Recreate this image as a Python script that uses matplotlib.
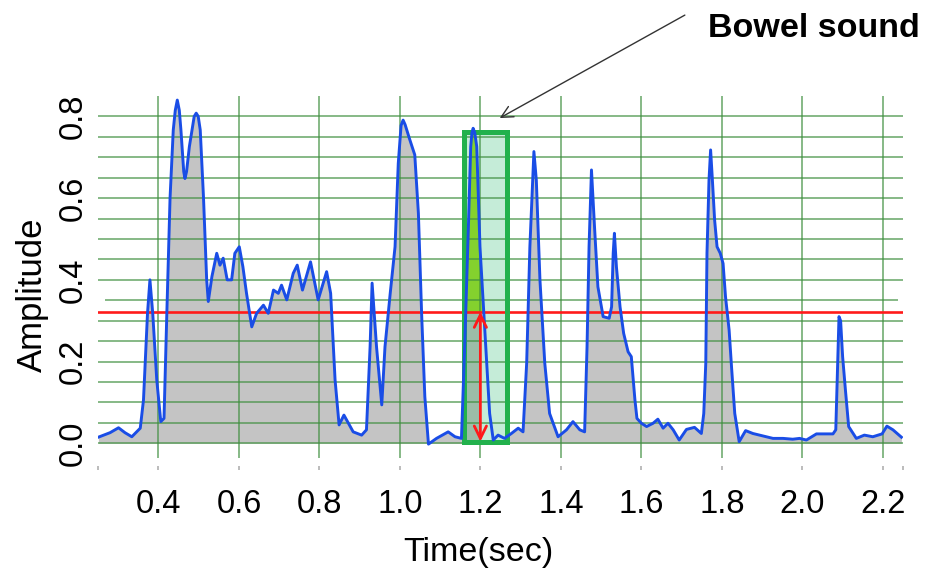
import matplotlib
matplotlib.use('Agg')
import matplotlib.pyplot as plt
from matplotlib.patches import Rectangle
import numpy as np

# ---------------- data ----------------
time_sec = [0.251, 0.280, 0.301, 0.317, 0.334, 0.355, 0.363, 0.373, 0.379, 0.386,
            0.396, 0.406, 0.414, 0.421, 0.429, 0.437, 0.442, 0.447, 0.452, 0.456,
            0.463, 0.466, 0.470, 0.477, 0.489, 0.494, 0.499, 0.504, 0.512, 0.520,
            0.524, 0.533, 0.545, 0.553, 0.561, 0.571, 0.582, 0.590, 0.601, 0.610,
            0.619, 0.632, 0.644, 0.661, 0.673, 0.686, 0.698, 0.706, 0.719, 0.735,
            0.745, 0.758, 0.778, 0.797, 0.818, 0.828, 0.839, 0.849, 0.861, 0.884,
            0.905, 0.917, 0.926, 0.931, 0.942, 0.955, 0.963, 0.976, 0.988, 0.996,
            1.003, 1.008, 1.013, 1.025, 1.037, 1.046, 1.054, 1.062, 1.071, 1.091,
            1.120, 1.137, 1.153, 1.161, 1.170, 1.176, 1.179, 1.182, 1.186, 1.191,
            1.199, 1.211, 1.223, 1.232, 1.244, 1.260, 1.277, 1.294, 1.306, 1.315,
            1.323, 1.333, 1.339, 1.348, 1.360, 1.372, 1.393, 1.414, 1.430, 1.447,
            1.459, 1.465, 1.470, 1.476, 1.484, 1.492, 1.505, 1.520, 1.526, 1.530,
            1.533, 1.538, 1.547, 1.556, 1.567, 1.575, 1.584, 1.589, 1.600, 1.613,
            1.629, 1.641, 1.654, 1.666, 1.679, 1.694, 1.712, 1.732, 1.749, 1.755,
            1.760, 1.763, 1.768, 1.772, 1.776, 1.782, 1.788, 1.796, 1.803, 1.809,
            1.818, 1.824, 1.832, 1.843, 1.859, 1.877, 1.902, 1.927, 1.952, 1.976,
            1.993, 2.010, 2.035, 2.059, 2.076, 2.083, 2.086, 2.091, 2.095, 2.100,
            2.107, 2.115, 2.134, 2.154, 2.175, 2.198, 2.210, 2.225, 2.246]

amplitude = [0.015, 0.026, 0.038, 0.026, 0.016, 0.037, 0.106, 0.318, 0.400, 0.318,
             0.155, 0.053, 0.061, 0.318, 0.600, 0.767, 0.815, 0.840, 0.815, 0.767,
             0.665, 0.648, 0.665, 0.726, 0.800, 0.808, 0.800, 0.767, 0.604, 0.400,
             0.347, 0.408, 0.465, 0.436, 0.453, 0.400, 0.400, 0.465, 0.481, 0.432,
             0.367, 0.285, 0.318, 0.338, 0.318, 0.375, 0.367, 0.387, 0.351, 0.416,
             0.436, 0.375, 0.444, 0.351, 0.420, 0.367, 0.155, 0.045, 0.069, 0.028,
             0.020, 0.033, 0.236, 0.392, 0.236, 0.094, 0.236, 0.367, 0.481, 0.685,
             0.778, 0.791, 0.780, 0.742, 0.706, 0.563, 0.318, 0.114, -0.002, 0.012,
             0.028, 0.016, 0.012, 0.236, 0.522, 0.726, 0.760, 0.771, 0.760, 0.726,
             0.481, 0.277, 0.073, 0.008, 0.020, 0.012, 0.024, 0.037, 0.028, 0.196,
             0.481, 0.714, 0.644, 0.400, 0.196, 0.073, 0.016, 0.033, 0.053, 0.033,
             0.028, 0.236, 0.481, 0.669, 0.522, 0.383, 0.310, 0.306, 0.334, 0.465,
             0.514, 0.432, 0.334, 0.269, 0.224, 0.212, 0.106, 0.061, 0.049, 0.041,
             0.049, 0.059, 0.037, 0.049, 0.033, 0.008, 0.034, 0.039, 0.024, 0.073,
             0.196, 0.465, 0.644, 0.718, 0.652, 0.546, 0.481, 0.465, 0.440, 0.359,
             0.277, 0.187, 0.073, 0.004, 0.031, 0.024, 0.018, 0.012, 0.012, 0.010,
             0.012, 0.008, 0.023, 0.023, 0.023, 0.033, 0.139, 0.310, 0.300, 0.212,
             0.130, 0.041, 0.012, 0.020, 0.016, 0.023, 0.042, 0.033, 0.015]

x_ticks = [0.4, 0.6, 0.8, 1.0, 1.2, 1.4, 1.6, 1.8, 2.0, 2.2]
x_tick_labels = ['0.4', '0.6', '0.8', '1.0', '1.2', '1.4', '1.6', '1.8', '2.0', '2.2']
x_end_ticks = [0.25, 2.25]
y_ticks = [0.0, 0.2, 0.4, 0.6, 0.8]
y_tick_labels = ['0.0', '0.2', '0.4', '0.6', '0.8']
h_grid = [0.00, 0.05, 0.10, 0.15, 0.20, 0.25, 0.30, 0.35, 0.40,
          0.45, 0.50, 0.55, 0.60, 0.65, 0.70, 0.75, 0.80]
h_grid_start = [0.25, 0.25, 0.25, 0.25, 0.25, 0.25, 0.25, 0.268, 0.25,
                0.25, 0.25, 0.25, 0.25, 0.25, 0.25, 0.25, 0.25]
h_grid_end = [2.25, 2.25, 2.25, 2.25, 2.25, 2.25, 2.25, 2.237, 2.25,
              2.25, 2.25, 2.25, 2.25, 2.25, 2.25, 2.25, 2.25]
threshold = 0.322
box_start, box_end = 1.16, 1.265
box_bottom, box_top = 0.002, 0.761
marker_time = 1.2
arrow_bottom = 0.004
note_text = 'Bowel sound'
note_tip = (1.248, 0.796)
note_tail = (1.708, 1.048)

# ---------------- figure ----------------
plt.rcParams['font.family'] = ['Liberation Sans', 'DejaVu Sans']
W, H = 927, 572
fig = plt.figure(figsize=(W / 100, H / 100), dpi=100)
fig.patch.set_facecolor('white')
ax = fig.add_axes([98 / W, 114 / H, 805 / W, 362 / H])
ax.set_xlim(0.25, 2.25)
ax.set_ylim(-0.036, 0.85)
for s in ax.spines.values():
    s.set_visible(False)
ax.spines['bottom'].set_position(('outward', 6))

t = np.array(time_sec)
a = np.array(amplitude)

# grey area under the signal
ax.fill_between(t, a, 0, color='#c4c4c4', lw=0, zorder=1)

# highlighted window
ax.add_patch(Rectangle((box_start, box_bottom), box_end - box_start, box_top - box_bottom,
                       facecolor='#c5ecd8', edgecolor='none', zorder=2))
ax.add_patch(Rectangle((box_start, box_bottom), marker_time - box_start, threshold - box_bottom,
                       facecolor='#9cbda8', edgecolor='none', zorder=2.1))
in_box = (t >= box_start - 0.01) & (t <= box_end)
ax.fill_between(t, a, threshold, where=(a > threshold) & in_box, interpolate=True,
                color='#84d12e', lw=0, zorder=2.2)

# grid
grid_color = '#3f8f3f'
ax.hlines(h_grid, h_grid_start, h_grid_end, color=grid_color, lw=1.1, alpha=0.8, zorder=3)
for v in x_ticks:
    ax.axvline(v, color=grid_color, lw=1.1, alpha=0.8, zorder=3)

# threshold line
ax.axhline(threshold, color='#ff1a1a', lw=1.9, zorder=4)

# box outline
ax.add_patch(Rectangle((box_start, box_bottom), box_end - box_start, box_top - box_bottom,
                       fill=False, edgecolor='#22b14c', lw=3.6, zorder=4.5))

# signal
ax.plot(t, a, color='#1a4de6', lw=2.1, zorder=5, solid_joinstyle='round')

# red double arrow
ax.annotate('', xy=(marker_time, arrow_bottom), xytext=(marker_time, threshold),
            arrowprops=dict(arrowstyle='<->,head_length=0.45,head_width=0.22',
                            color='#ff1a1a', lw=2, shrinkA=0, shrinkB=0, mutation_scale=20),
            zorder=6)

# annotation arrow + text
ax.annotate('', xy=note_tip, xytext=note_tail, annotation_clip=False,
            arrowprops=dict(arrowstyle='->,head_length=0.6,head_width=0.3',
                            color='#333333', lw=1.0, shrinkA=0, shrinkB=0, mutation_scale=14))
fig.text(814 / W, (H - 36.7) / H, note_text, fontsize=24.5, fontweight='bold',
         ha='center', va='baseline')

# ticks
ax.set_xticks(x_ticks)
ax.set_xticklabels(x_tick_labels, fontsize=23.5)
ax.set_xticks(x_end_ticks, minor=True)
ax.tick_params(axis='x', which='both', length=3, width=1.2, color='#b0b0b0', pad=13)
ax.set_yticks(y_ticks)
ax.set_yticklabels(y_tick_labels, fontsize=23.5, rotation=90, va='center')
ax.tick_params(axis='y', length=0, pad=7)

ax.set_xlabel('Time(sec)', fontsize=24.5, va='baseline')
ax.xaxis.set_label_coords((478 - 98) / 805, (458 - 561) / 362)
ax.set_ylabel('Amplitude', fontsize=25, va='baseline')
ax.yaxis.set_label_coords((42 - 98) / 805, (458 - 295) / 362)

fig.savefig('out.png', dpi=100, facecolor='white')
